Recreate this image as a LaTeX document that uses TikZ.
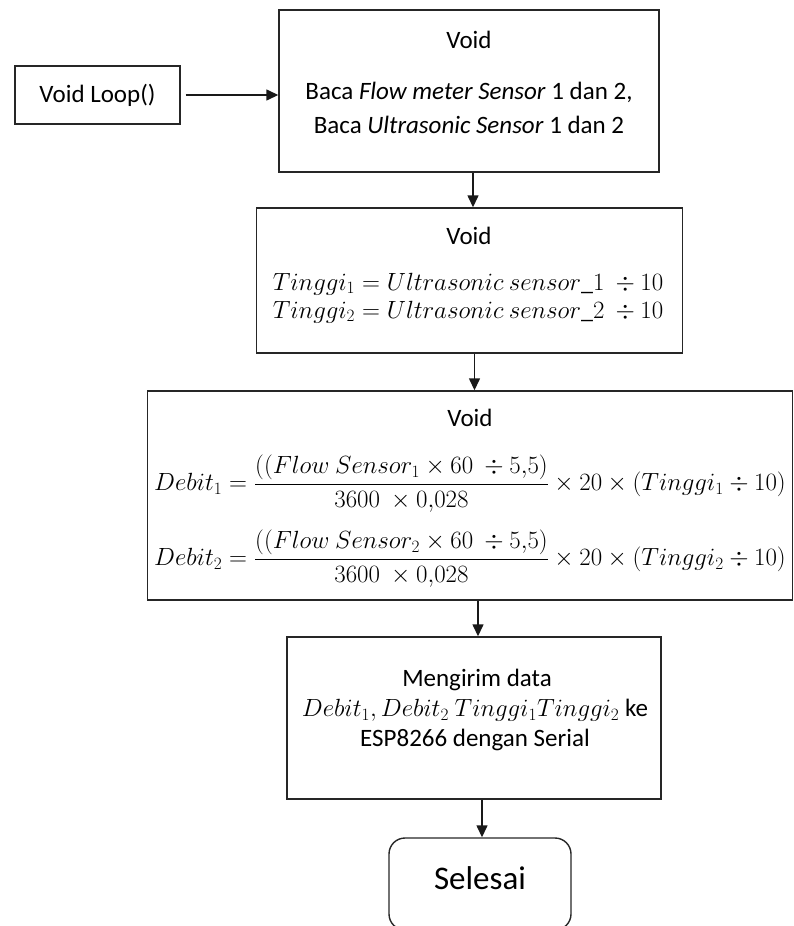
\documentclass[tikz,border=0pt]{standalone}
\usepackage{amsmath}
\usepackage{fontspec}
\setmainfont{Carlito}
\usetikzlibrary{arrows.meta}
\begin{document}
\begin{tikzpicture}[x=1pt,y=-1pt,
  box/.style={draw=black!85, line width=1.4pt, minimum width=#1, inner sep=0pt},
  label/.style={inner sep=0pt, font=\fontsize{25}{30}\selectfont},
  eq/.style={inner sep=0pt, font=\fontsize{24}{30}\selectfont},
  arr/.style={draw=black!90, line width=1.4pt, -{Triangle[length=12pt,width=11pt]}}
]
\useasboundingbox (0,0) rectangle (794,926);

% boxes
\node[box=165pt, minimum height=58pt, label] (loop) at (97.5,95) {Void Loop()};
\node[box=380pt, minimum height=162pt] (b1) at (469,91) {};
\node[box=426pt, minimum height=145pt] (b2) at (469.5,280.5) {};
\node[box=645pt, minimum height=209pt] (b3) at (470,495.5) {};
\node[box=374pt, minimum height=162pt] (b4) at (474,718) {};
\node[box=182pt, minimum height=92pt, rounded corners=16pt] (end) at (480,884) {};

% texts
\node[label] (t1a) at (469,40) {Void};
\node[label] (t1b) at (469,92) {Baca \textit{Flow meter Sensor} 1 dan 2,};
\node[label] (t1c) at (469,125) {Baca \textit{Ultrasonic Sensor} 1 dan 2};

\node[label] (t2a) at (469,236) {Void};
\node[eq] (t2b) at (468,284) {$Tinggi_1 = Ultrasonic\ sensor\_1\ \div 10$};
\node[eq] (t2c) at (468,312) {$Tinggi_2 = Ultrasonic\ sensor\_2\ \div 10$};

\node[label] (t3a) at (470,418) {Void};
\node[label] (t3b) at (470,484) {$Debit_1 = \dfrac{((Flow\ Sensor_1 \times 60\ \div 5{,}5)}{3600\ \times 0{,}028} \times 20 \times (Tinggi_1 \div 10)$};
\node[label] (t3c) at (470,559) {$Debit_2 = \dfrac{((Flow\ Sensor_2 \times 60\ \div 5{,}5)}{3600\ \times 0{,}028} \times 20 \times (Tinggi_2 \div 10)$};

\node[label] (t4a) at (477,680) {Mengirim data};
\node[label] (t4b) at (475,710) {$Debit_1, Debit_2\ Tinggi_1 Tinggi_2$ ke};
\node[label] (t4c) at (475,740) {ESP8266 dengan Serial};

\node[inner sep=0pt, font=\fontsize{33}{40}\selectfont] (t5) at (480,878) {Selesai};

% connectors
\draw[arr] (loop.east) ++(5pt,0) coordinate (ls) -- (ls -| b1.west);
\draw[arr] (b1.south) ++(4pt,0) coordinate (a1) -- (a1 |- b2.north);
\draw[arr] (b2.south) ++(5pt,0) coordinate (a2) -- (a2 |- b3.north);
\draw[arr] (b3.south) ++(8pt,0) coordinate (a3) -- (a3 |- b4.north);
\draw[arr] (b4.south) ++(8pt,0) coordinate (a4) -- (a4 |- end.north);
\end{tikzpicture}
\end{document}
